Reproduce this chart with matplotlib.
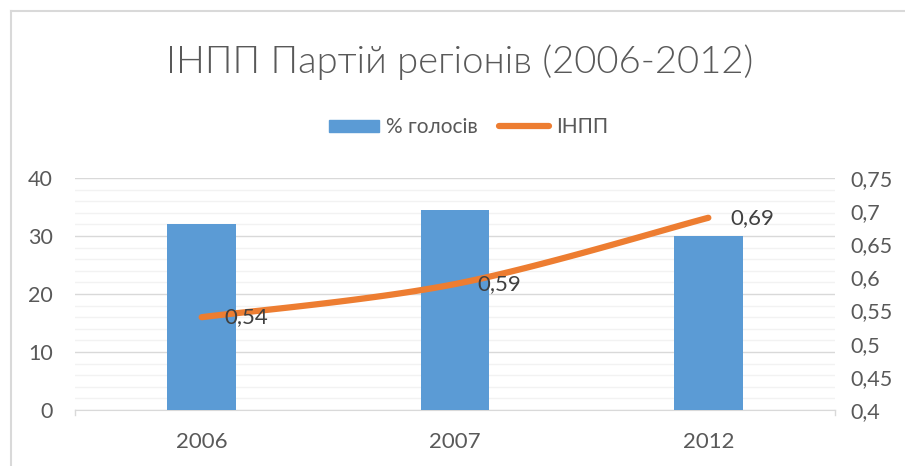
import numpy as np
import matplotlib.pyplot as plt
from matplotlib.lines import Line2D
from matplotlib.patches import Patch
from matplotlib.ticker import FixedLocator, FuncFormatter

plt.rcParams['font.family'] = ['Lato', 'DejaVu Sans']

years = ['2006', '2007', '2012']
votes = [32.1, 34.4, 30.0]          # % голосів
inpp = [0.54, 0.59, 0.69]            # ІНПП
inpp_labels = ['0,54', '0,59', '0,69']

bar_col = '#5B9BD5'
line_col = '#ED7D31'
txt_col = '#595959'


def smooth(xs, ys, n=40):
    # bezier smoothing like excel (catmull-rom style control points)
    xs = np.asarray(xs, float); ys = np.asarray(ys, float)
    px = np.concatenate([[xs[0]], xs, [xs[-1]]])
    py = np.concatenate([[ys[0]], ys, [ys[-1]]])
    outx, outy = [], []
    t = np.linspace(0, 1, n)
    for i in range(1, len(px) - 2):
        p0 = np.array([px[i], py[i]]); p3 = np.array([px[i + 1], py[i + 1]])
        c1 = p0 + (np.array([px[i + 1], py[i + 1]]) - np.array([px[i - 1], py[i - 1]])) / 6
        c2 = p3 - (np.array([px[i + 2], py[i + 2]]) - np.array([px[i], py[i]])) / 6
        b = ((1 - t) ** 3)[:, None] * p0 + (3 * (1 - t) ** 2 * t)[:, None] * c1 \
            + (3 * (1 - t) * t ** 2)[:, None] * c2 + (t ** 3)[:, None] * p3
        outx.extend(b[:, 0]); outy.extend(b[:, 1])
    return outx, outy


fig = plt.figure(figsize=(9.05, 4.66), dpi=100)
ax = fig.add_axes([75 / 905, 56 / 466, 760 / 905, 232 / 466])
ax2 = ax.twinx()

x = np.arange(len(years))
ax.bar(x, votes, width=0.27, color=bar_col, zorder=3)
ax.set_xlim(-0.5, 2.5)
ax.set_ylim(0, 40)
ax.set_yticks([0, 10, 20, 30, 40])
ax.yaxis.set_minor_locator(FixedLocator(np.arange(0, 41, 2)))
ax.grid(axis='y', which='major', color='#D9D9D9', lw=1, zorder=0)
ax.grid(axis='y', which='minor', color='#F2F2F2', lw=1, zorder=0)
ax.set_xticks(x)
ax.set_xticklabels(years)
ax.tick_params(axis='x', length=0, pad=16, labelsize=16, labelcolor=txt_col)
ax.tick_params(axis='y', which='both', length=0, pad=16, labelsize=15.5, labelcolor=txt_col)
for s in ['top', 'right', 'left']:
    ax.spines[s].set_visible(False)
ax.spines['bottom'].set_color('#D9D9D9')
# end tick marks of category axis
for xe in [-0.5, 2.5]:
    ax.plot([xe, xe], [0, -0.8], color='#D9D9D9', lw=1, clip_on=False)

sx, sy = smooth(x, inpp)
ax2.plot(sx, sy, color=line_col, lw=4.5, solid_capstyle='round', zorder=4)
ax2.set_ylim(0.4, 0.75)
ax2.set_yticks(np.arange(0.4, 0.751, 0.05))
ax2.yaxis.set_major_formatter(FuncFormatter(lambda v, p: ('%g' % round(v, 2)).replace('.', ',')))
ax2.tick_params(axis='y', length=0, pad=11, labelsize=15.5, labelcolor=txt_col)
for s in ax2.spines.values():
    s.set_visible(False)
for xi, yi, lab in zip(x, inpp, inpp_labels):
    ax2.annotate(lab, (xi, yi), xytext=(16, 0), textcoords='offset points',
                 ha='left', va='center', fontsize=16, color='#404040', zorder=5)

fig.text(0.508, 1 - 62 / 466, 'ІНПП Партій регіонів (2006-2012)', ha='center', va='center',
         fontsize=27.5, fontweight=300, color=txt_col)

handles = [Patch(color=bar_col), Line2D([0], [0], color=line_col, lw=4.5, solid_capstyle='round')]
fig.legend(handles, ['% голосів', 'ІНПП'], loc='center', bbox_to_anchor=(0.518, 1 - 127 / 466),
           ncol=2, frameon=False, fontsize=15, labelcolor=txt_col, handlelength=2.4,
           handleheight=0.5, handletextpad=0.35, columnspacing=1.0)

# chart border (cropped at right and bottom)
fig.add_artist(Line2D([11 / 905, 1], [1 - 11 / 466, 1 - 11 / 466], color='#D9D9D9', lw=1.5))
fig.add_artist(Line2D([11 / 905, 11 / 905], [0, 1 - 11 / 466], color='#D9D9D9', lw=1.5))

fig.savefig('out.png', dpi=100)
